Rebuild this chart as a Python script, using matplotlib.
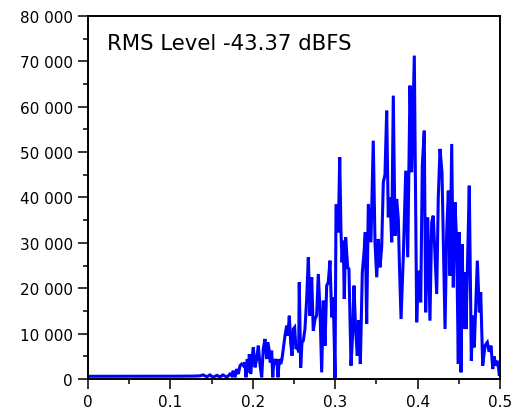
import matplotlib
matplotlib.use("Agg")
import matplotlib.pyplot as plt
from matplotlib.ticker import FuncFormatter, MultipleLocator

# spectrum (normalised frequency, magnitude)
freq = [0.0, 0.02, 0.05, 0.08, 0.11, 0.13, 0.136, 0.1396, 0.1444, 0.148, 0.1517, 0.1566, 0.160, 0.1638, 0.1687,
        0.1723, 0.1744, 0.1763, 0.1784, 0.1805, 0.1824, 0.1845, 0.1865, 0.1885, 0.1905, 0.1917, 0.1933, 0.1945,
        0.1958, 0.1975, 0.1990, 0.2006, 0.2027, 0.2047, 0.2067, 0.2087, 0.2108, 0.2127, 0.2148, 0.2169, 0.2181,
        0.2197, 0.2212, 0.2229, 0.2242, 0.2257, 0.2273, 0.2290, 0.2306, 0.2322, 0.2339, 0.2354, 0.2370, 0.2391,
        0.2411, 0.2427, 0.2443, 0.2460, 0.2476, 0.2492, 0.2508, 0.2524, 0.2540, 0.2557, 0.2564, 0.2581, 0.2597,
        0.2613, 0.2633, 0.2654, 0.2674, 0.2694, 0.2715, 0.2734, 0.2755, 0.2775, 0.2795, 0.2816, 0.2836, 0.2856,
        0.2876, 0.2897, 0.2916, 0.2937, 0.2958, 0.2977, 0.2998, 0.3010, 0.3025, 0.3038, 0.3055, 0.3070, 0.3083,
        0.3098, 0.3110, 0.3127, 0.3152, 0.3167, 0.3192, 0.3212, 0.3228, 0.3248, 0.3268, 0.3289, 0.3305, 0.3329,
        0.3350, 0.3365, 0.3382, 0.3402, 0.3434, 0.3462, 0.3483, 0.3504, 0.3523, 0.3544, 0.3564, 0.3584, 0.3604,
        0.3625, 0.3644, 0.3665, 0.3686, 0.3705, 0.3726, 0.3746, 0.3766, 0.3778, 0.3799, 0.3827, 0.3856, 0.3880,
        0.3908, 0.3929, 0.3960, 0.3989, 0.4009, 0.4038, 0.4057, 0.4081, 0.4098, 0.4123, 0.4150, 0.4171, 0.4190,
        0.4232, 0.4251, 0.4272, 0.4296, 0.4333, 0.4353, 0.4373, 0.4393, 0.4414, 0.4433, 0.4454, 0.4474, 0.4494,
        0.4506, 0.4527, 0.4542, 0.4555, 0.4575, 0.4587, 0.4603, 0.4627, 0.4652, 0.4669, 0.4688, 0.4725, 0.4749,
        0.4766, 0.4790, 0.4818, 0.4846, 0.4867, 0.4891, 0.4912, 0.4927, 0.4951, 0.4972, 0.4992, 0.5]
mag = [600, 600, 620, 600, 620, 650, 700, 900, 500, 900, 400, 800, 450, 900, 400,
       1100, 730, 1830, 370, 2200, 1100, 2940, 3300, 2940, 3670, 370, 4400, 1470,
       5500, 1100, 4400, 6980, 2570, 4400, 7350, 3300, 370, 6610, 8820, 4400, 8080,
       6610, 3670, 6240, 370, 4400, 3300, 4400, 370, 4400, 3300, 4400, 6610, 9550,
       11750, 9550, 13950, 8080, 5140, 11020, 11390, 6610, 7350, 5880, 21300, 2500, 8080,
       8450, 11000, 17630, 26820, 13950, 22410, 10650, 13220, 14000, 23140, 15000, 1470, 17260,
       7350, 20570, 21310, 26080, 13590, 18000, 0, 38200, 38200, 32330, 48860, 32690, 25710,
       30480, 17630, 31220, 24500, 24240, 2940, 10000, 20570, 11000, 5140, 13000, 3300, 23510,
       27920, 32330, 12120, 38570, 30130, 52520, 30000, 22410, 30860, 24610, 29000, 43350, 45000,
       59130, 35640, 40040, 30130, 62440, 31590, 39670, 35260, 26080, 13220, 27180, 45910, 26820,
       64640, 45540, 71260, 12500, 23880, 16900, 47010, 54720, 14700, 35640, 12850, 34530, 35990,
       18730, 40000, 50690, 45540, 11020, 32330, 41500, 22770, 51790, 20200, 38940, 30000, 3300,
       32330, 1470, 29750, 11020, 23510, 11000, 23140, 42600, 4040, 13950, 6980, 26080, 14700,
       19100, 2940, 7350, 8080, 6000, 7350, 2200, 5000, 2940, 4000, 730, 2000]

title_text = "RMS Level -43.37 dBFS"
x_ticks = [0, 0.1, 0.2, 0.3, 0.4, 0.5]
x_labels = ["0", "0.1", "0.2", "0.3", "0.4", "0.5"]

fig = plt.figure(figsize=(5.16, 4.14), dpi=100)
ax = fig.add_axes([0.1705, 0.0821, 0.7985, 0.877])

ax.plot(freq, mag, color="#0000ff", linewidth=2.2, solid_joinstyle="miter")

ax.set_xlim(0, 0.5)
ax.set_ylim(0, 80000)
ax.set_xticks(x_ticks)
ax.set_xticklabels(x_labels)
ax.xaxis.set_minor_locator(MultipleLocator(0.05))
ax.yaxis.set_major_locator(MultipleLocator(10000))
ax.yaxis.set_minor_locator(MultipleLocator(5000))
ax.yaxis.set_major_formatter(FuncFormatter(lambda v, p: f"{int(v):,}".replace(",", " ")))

ax.tick_params(which="major", direction="out", length=7, width=1.1, labelsize=11, pad=4)
ax.tick_params(which="minor", direction="out", length=3.6, width=1.1)
for s in ax.spines.values():
    s.set_linewidth(1.4)

ax.text(0.045, 0.925, title_text, transform=ax.transAxes, fontsize=15.3, va="center", ha="left")

fig.savefig("out.png", dpi=100)
